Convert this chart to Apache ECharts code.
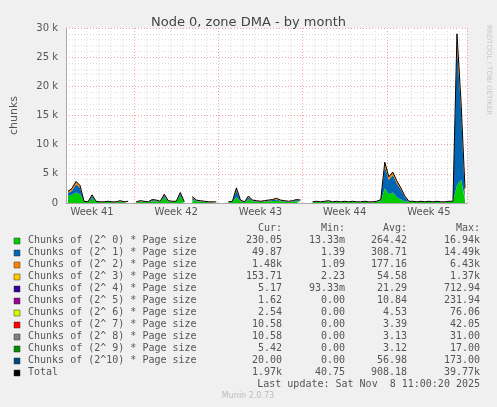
<!DOCTYPE html>
<html lang="en">
<head>
    <meta charset="UTF-8">
    <title>Node 0, zone DMA - by month</title>
    <script src="https://cdn.jsdelivr.net/npm/echarts@6/dist/echarts.min.js"></script>
    <style>
        html, body { margin: 0; padding: 0; background: #f0f0f0; }
        #chart { width: 497px; height: 407px; }
    </style>
</head>
<body>
<div id="chart"></div>
<script>
    // values in thousands of chunks, one point per ~8 hours
    var order0 = [1.2,1.4,1.8,1.5,0.2,0.1,0.8,0.2,0.1,0.1, 0.2,0.1,0.1,0.2,0.1,0.2,null,0.1,0.2,0.2,
        0.1,0.3,0.3,0.2,1.0,0.2,0.2,0.2,1.2,0.1, null,0.5,0.3,0.2,0.2,0.1,0.1,0.1,null,null,
        0.1,0.2,1.0,0.3,0.1,0.6,0.3,0.2,0.2,0.2, 0.3,0.3,0.4,0.3,0.2,0.2,0.2,0.3,0.3,null,
        null,0.1,0.2,0.1,0.2,0.2,0.1,0.2,0.1,0.2, 0.1,0.2,0.1,0.1,0.2,0.1,0.1,0.2,0.3,2.5,
        1.5,1.8,1.0,0.6,0.3,0.2,0.2,0.1,0.2,0.1, 0.2,0.1,0.2,0.1,0.1,0.2,0.2,3.0,4.0,0.5];
    var order1 = [0.5,0.7,1.4,1.1,0.05,0.05,0.4,0.05,0.05,0.05, 0.05,0.05,0.05,0.1,0.05,0.05,null,0.05,0.1,0.05,
        0.05,0.2,0.1,0.05,0.3,0.1,0.05,0.05,0.4,0.05, null,0.4,0.1,0.1,0.05,0.05,0.05,0.05,null,null,
        0.05,0.05,1.2,0.1,0.05,0.4,0.1,0.1,0.05,0.1, 0.1,0.2,0.2,0.1,0.1,0.05,0.1,0.2,0.1,null,
        null,0.05,0.05,0.05,0.05,0.1,0.05,0.05,0.05,0.05, 0.05,0.05,0.05,0.05,0.05,0.05,0.05,0.05,0.2,3.8,
        2.5,3.0,2.4,1.7,0.7,0.05,0.05,0.05,0.05,0.05, 0.05,0.05,0.05,0.05,0.05,0.05,0.05,24.0,12.0,0.3];
    var order2 = [0.3,0.4,0.5,0.4,0.05,0.05,0.2,0.05,0.05,0.05, 0.05,0.05,0.05,0.1,0.05,0.05,null,0.05,0.1,0.05,
        0.05,0.1,0.1,0.05,0.2,0.1,0.05,0.05,0.2,0.05, null,0.2,0.1,0.1,0.05,0.05,0.05,0.05,null,null,
        0.05,0.05,0.4,0.1,0.05,0.2,0.1,0.1,0.05,0.1, 0.1,0.1,0.2,0.1,0.1,0.05,0.1,0.1,0.1,null,
        null,0.05,0.05,0.05,0.05,0.1,0.05,0.05,0.05,0.05, 0.05,0.05,0.05,0.05,0.05,0.05,0.05,0.05,0.1,0.7,
        0.5,0.5,0.4,0.3,0.2,0.05,0.05,0.05,0.05,0.05, 0.05,0.05,0.05,0.05,0.05,0.05,0.05,1.5,1.3,1.6];
    var total = [2.0,2.5,3.7,3.0,0.3,0.2,1.4,0.3,0.2,0.2, 0.3,0.2,0.2,0.4,0.2,0.3,null,0.2,0.4,0.3,
        0.2,0.6,0.5,0.3,1.5,0.4,0.3,0.3,1.8,0.2, null,1.1,0.5,0.4,0.3,0.2,0.2,0.2,null,null,
        0.2,0.3,2.6,0.5,0.2,1.2,0.5,0.4,0.3,0.4, 0.5,0.6,0.8,0.5,0.4,0.3,0.4,0.6,0.5,null,
        null,0.2,0.3,0.2,0.3,0.4,0.2,0.3,0.2,0.3, 0.2,0.3,0.2,0.2,0.3,0.2,0.2,0.3,0.6,7.0,
        4.5,5.3,3.8,2.6,1.2,0.3,0.3,0.2,0.3,0.2, 0.3,0.2,0.3,0.2,0.2,0.3,0.3,29.0,17.5,2.5];

    var weekPos = [6, 27, 48, 69, 90];
    var weekNames = ['Week 41', 'Week 42', 'Week 43', 'Week 44', 'Week 45'];

    var legendNames = ['Chunks of (2^ 0) * Page size', 'Chunks of (2^ 1) * Page size', 'Chunks of (2^ 2) * Page size',
        'Chunks of (2^ 3) * Page size', 'Chunks of (2^ 4) * Page size', 'Chunks of (2^ 5) * Page size',
        'Chunks of (2^ 6) * Page size', 'Chunks of (2^ 7) * Page size', 'Chunks of (2^ 8) * Page size',
        'Chunks of (2^ 9) * Page size', 'Chunks of (2^10) * Page size', 'Total'];
    var colors = ['#00cc00', '#0066b3', '#ff8000', '#ffcc00', '#330099', '#990099', '#ccff00',
        '#ff0000', '#808080', '#008f00', '#00487d', '#000000'];
    var curVals = ['230.05', '49.87', '1.48k', '153.71', '5.17', '1.62', '2.54', '10.58', '10.58', '5.42', '20.00', '1.97k'];
    var minVals = ['13.33m', '1.39', '1.09', '2.23', '93.33m', '0.00', '0.00', '0.00', '0.00', '0.00', '0.00', '40.75'];
    var avgVals = ['264.42', '308.71', '177.16', '54.58', '21.29', '10.84', '4.53', '3.39', '3.13', '3.12', '56.98', '908.18'];
    var maxVals = ['16.94k', '14.49k', '6.43k', '1.37k', '712.94', '231.94', '76.06', '42.05', '31.00', '17.00', '173.00', '39.77k'];

    var categories = [];
    for (var i = 0; i < total.length; i++) categories.push('');
    weekPos.forEach(function (p, k) { categories[p] = weekNames[k]; });

    var mono = '"DejaVu Sans Mono", monospace';
    var graphics = [];
    ['Cur:', 'Min:', 'Avg:', 'Max:'].forEach(function (h, k) {
        graphics.push({type: 'text', x: [282, 345, 407, 480][k], y: 223,
            style: {text: h, font: '10px ' + mono, fill: '#555', textAlign: 'right'}});
    });
    legendNames.forEach(function (n, k) {
        var y = 235 + k * 12;
        graphics.push({type: 'rect', shape: {x: 14, y: y + 3, width: 6, height: 6},
            style: {fill: colors[k], stroke: '#333', lineWidth: 0.5}});
        graphics.push({type: 'text', x: 28, y: y, style: {text: n, font: '10px ' + mono, fill: '#555'}});
        [curVals, minVals, avgVals, maxVals].forEach(function (arr, c) {
            graphics.push({type: 'text', x: [282, 345, 407, 480][c], y: y,
                style: {text: arr[k], font: '10px ' + mono, fill: '#555', textAlign: 'right'}});
        });
    });
    graphics.push({type: 'text', x: 480, y: 379, style: {text: 'Last update: Sat Nov  8 11:00:20 2025',
        font: '10px ' + mono, fill: '#555', textAlign: 'right'}});
    graphics.push({type: 'text', x: 248, y: 392, style: {text: 'Munin 2.0.73',
        font: '8px "DejaVu Sans", sans-serif', fill: '#bbb', textAlign: 'center'}});
    graphics.push({type: 'text', x: 492, y: 25, rotation: -Math.PI / 2, style: {text: 'RRDTOOL / TOBI OETIKER',
        font: '7px "DejaVu Sans", sans-serif', fill: '#c8c8c8', textAlign: 'left'}});

    function area(name, data, color) {
        return {name: name, type: 'line', stack: 'a', data: data, symbol: 'none', connectNulls: false,
            lineStyle: {width: 0}, itemStyle: {color: color}, areaStyle: {color: color, opacity: 1}};
    }

    var chart = echarts.init(document.getElementById('chart'));
    chart.setOption({
        backgroundColor: '#f0f0f0',
        animation: false,
        title: {text: 'Node 0, zone DMA - by month', left: 'center', top: 11,
            textStyle: {fontSize: 13, fontWeight: 'normal', color: '#444', fontFamily: '"DejaVu Sans", sans-serif'}},
        grid: {left: 66, right: 30, top: 28, bottom: 204, backgroundColor: '#fff', show: true, borderWidth: 0},
        xAxis: [{
            type: 'category', data: categories, boundaryGap: true,
            axisLine: {lineStyle: {color: '#aaa'}}, axisTick: {show: false},
            axisLabel: {interval: 0, color: '#555', fontSize: 10, fontFamily: '"DejaVu Sans", sans-serif', margin: 4},
            splitLine: {show: true, interval: function (i) { return i % 3 === 2; },
                lineStyle: {color: '#ddd', type: [1, 2]}}
        }, {
            type: 'category', data: categories, position: 'bottom', show: true,
            axisLine: {show: false}, axisTick: {show: false}, axisLabel: {show: false},
            splitLine: {show: true, interval: function (i) { return i > 0 && (i - 17) % 21 === 0; },
                lineStyle: {color: '#f0a0a0', type: [1, 2]}}
        }],
        yAxis: {
            type: 'value', min: 0, max: 30, interval: 5, name: 'chunks', nameLocation: 'middle', nameGap: 46,
            nameTextStyle: {color: '#555', fontSize: 11, fontFamily: '"DejaVu Sans", sans-serif'},
            axisLine: {show: true, lineStyle: {color: '#aaa'}}, axisTick: {show: false},
            axisLabel: {color: '#555', fontSize: 10, fontFamily: '"DejaVu Sans", sans-serif', margin: 8,
                formatter: function (v) { return v === 0 ? '0' : v + ' k'; }},
            splitLine: {lineStyle: {color: '#f0a0a0', type: [1, 2]}},
            minorTick: {show: false, splitNumber: 5},
            minorSplitLine: {show: true, lineStyle: {color: '#ddd', type: [1, 2]}}
        },
        graphic: graphics,
        series: [
            area(legendNames[0], order0, colors[0]),
            area(legendNames[1], order1, colors[1]),
            area(legendNames[2], order2, colors[2]),
            {name: 'Total', type: 'line', data: total, symbol: 'none', connectNulls: false,
                lineStyle: {width: 1, color: '#000'}, z: 5}
        ]
    });
</script>
</body>
</html>
